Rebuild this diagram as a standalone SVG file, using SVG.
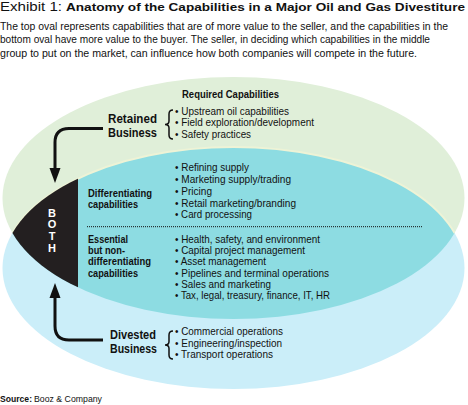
<svg xmlns="http://www.w3.org/2000/svg" width="468" height="405" viewBox="0 0 468 405">
<style>
text{font-family:"Liberation Sans",Arial,sans-serif;fill:#111111}
.b{font-weight:bold}
.li{font-size:10.5px}
.lab{font-size:12.5px;font-weight:bold}
.lab2{font-size:10.5px;font-weight:bold}
.desc{font-size:10.5px}
.both{font-size:11px;font-weight:bold;fill:#ffffff;text-anchor:middle}
.conn{fill:none;stroke:#111111;stroke-width:3}
.brace{fill:none;stroke:#111111;stroke-width:1.5}
</style>
<defs>
<clipPath id="clipGreen"><ellipse cx="233.5" cy="198" rx="231" ry="121"/></clipPath>
<clipPath id="clipBlue"><ellipse cx="233.5" cy="268" rx="231" ry="121"/></clipPath>
</defs>
<rect width="468" height="405" fill="#ffffff"/>

<g id="title">
<text x="0" y="11" font-size="12" textLength="62" lengthAdjust="spacingAndGlyphs">Exhibit 1:</text>
<text x="66" y="11" font-size="11.8" class="b" textLength="399" lengthAdjust="spacingAndGlyphs">Anatomy of the Capabilities in a Major Oil and Gas Divestiture</text>
<text x="0" y="30" class="desc" textLength="448" lengthAdjust="spacingAndGlyphs">The top oval represents capabilities that are of more value to the seller, and the capabilities in the</text>
<text x="0" y="43.3" class="desc" textLength="430" lengthAdjust="spacingAndGlyphs">bottom oval have more value to the buyer. The seller, in deciding which capabilities in the middle</text>
<text x="0" y="56.6" class="desc" textLength="417" lengthAdjust="spacingAndGlyphs">group to put on the market, can influence how both companies will compete in the future.</text>
</g>

<g id="top-oval">
<ellipse cx="233.5" cy="198" rx="231" ry="121" fill="#e0efd9"/>
</g>
<g id="bottom-oval">
<ellipse cx="233.5" cy="268" rx="231" ry="121" fill="#cbeef9"/>
</g>
<g id="middle-group">
<g clip-path="url(#clipGreen)">
<ellipse cx="233.5" cy="268" rx="231" ry="121" fill="#8ddce2" stroke="#eef3d6" stroke-width="2"/>
</g>
</g>
<g id="both">
<g clip-path="url(#clipGreen)"><g clip-path="url(#clipBlue)">
<rect x="0" y="140" width="78" height="190" fill="#231f20"/>
</g></g>
<text x="52" y="216.7" class="both">B</text>
<text x="52" y="228.3" class="both">O</text>
<text x="52" y="240" class="both">T</text>
<text x="52" y="251.7" class="both">H</text>
</g>

<g id="retained">
<text x="182" y="98.3" class="b" font-size="10" textLength="97" lengthAdjust="spacingAndGlyphs">Required  Capabilities</text>
<text x="108" y="123.3" class="lab" textLength="49" lengthAdjust="spacingAndGlyphs">Retained</text>
<text x="108" y="136.7" class="lab" textLength="49" lengthAdjust="spacingAndGlyphs">Business</text>
<path class="brace" d="M173 110 Q169 110 169 114 V121 Q169 124.5 165 124.5 Q169 124.5 169 128 V135 Q169 139 173 139"/>
<text x="175" y="115" class="li" textLength="114" lengthAdjust="spacingAndGlyphs">• Upstream oil capabilities</text>
<text x="175" y="126.3" class="li" textLength="139" lengthAdjust="spacingAndGlyphs">• Field exploration/development</text>
<text x="175" y="137.6" class="li" textLength="76" lengthAdjust="spacingAndGlyphs">• Safety practices</text>
</g>

<g id="differentiating">
<text x="88" y="196.7" class="lab2" textLength="64" lengthAdjust="spacingAndGlyphs">Differentiating</text>
<text x="88" y="208" class="lab2" textLength="50" lengthAdjust="spacingAndGlyphs">capabilities</text>
<text x="175" y="171.4" class="li" textLength="74" lengthAdjust="spacingAndGlyphs">• Refining supply</text>
<text x="175" y="183" class="li" textLength="116" lengthAdjust="spacingAndGlyphs">• Marketing supply/trading</text>
<text x="175" y="194.8" class="li" textLength="37" lengthAdjust="spacingAndGlyphs">• Pricing</text>
<text x="175" y="206.5" class="li" textLength="121" lengthAdjust="spacingAndGlyphs">• Retail marketing/branding</text>
<text x="175" y="218.2" class="li" textLength="77" lengthAdjust="spacingAndGlyphs">• Card processing</text>
</g>

<line x1="87" y1="226.7" x2="423" y2="226.7" stroke="#111111" stroke-width="1" stroke-dasharray="1 1"/>

<g id="essential">
<text x="88" y="242.7" class="lab2" textLength="40" lengthAdjust="spacingAndGlyphs">Essential</text>
<text x="88" y="254" class="lab2" textLength="37" lengthAdjust="spacingAndGlyphs">but non-</text>
<text x="88" y="265.3" class="lab2" textLength="63" lengthAdjust="spacingAndGlyphs">differentiating</text>
<text x="88" y="276.6" class="lab2" textLength="50" lengthAdjust="spacingAndGlyphs">capabilities</text>
<text x="175" y="242.7" class="li" textLength="145" lengthAdjust="spacingAndGlyphs">• Health, safety, and environment</text>
<text x="175" y="254" class="li" textLength="130" lengthAdjust="spacingAndGlyphs">• Capital project management</text>
<text x="175" y="265.3" class="li" textLength="91" lengthAdjust="spacingAndGlyphs">• Asset management</text>
<text x="175" y="276.6" class="li" textLength="154" lengthAdjust="spacingAndGlyphs">• Pipelines and terminal operations</text>
<text x="175" y="287.9" class="li" textLength="96" lengthAdjust="spacingAndGlyphs">• Sales and marketing</text>
<text x="175" y="299.2" class="li" textLength="155" lengthAdjust="spacingAndGlyphs">• Tax, legal, treasury, finance, IT, HR</text>
</g>

<g id="divested">
<text x="110" y="338.5" class="lab" textLength="46" lengthAdjust="spacingAndGlyphs">Divested</text>
<text x="110" y="352.7" class="lab" textLength="47" lengthAdjust="spacingAndGlyphs">Business</text>
<path class="brace" d="M173 331 Q169 331 169 335 V341.5 Q169 345 165 345 Q169 345 169 348.5 V355 Q169 359 173 359"/>
<text x="175" y="335" class="li" textLength="108" lengthAdjust="spacingAndGlyphs">• Commercial operations</text>
<text x="175" y="346.7" class="li" textLength="107" lengthAdjust="spacingAndGlyphs">• Engineering/inspection</text>
<text x="175" y="358.3" class="li" textLength="98" lengthAdjust="spacingAndGlyphs">• Transport operations</text>
</g>

<g id="connectors">
<path class="conn" d="M103 128.5 H69 Q55 128.5 55 142.5 V170"/>
<polygon points="49.5,168 60.5,168 55,183" fill="#111111"/>
<path class="conn" d="M103 340 H69 Q55 340 55 326 V296"/>
<polygon points="49.5,298 60.5,298 55,283" fill="#111111"/>
</g>

<g id="source">
<text x="0" y="401.7" font-size="9.5" class="b" textLength="32" lengthAdjust="spacingAndGlyphs">Source:</text>
<text x="34" y="401.7" font-size="9.5" textLength="68" lengthAdjust="spacingAndGlyphs">Booz &amp; Company</text>
</g>
</svg>
